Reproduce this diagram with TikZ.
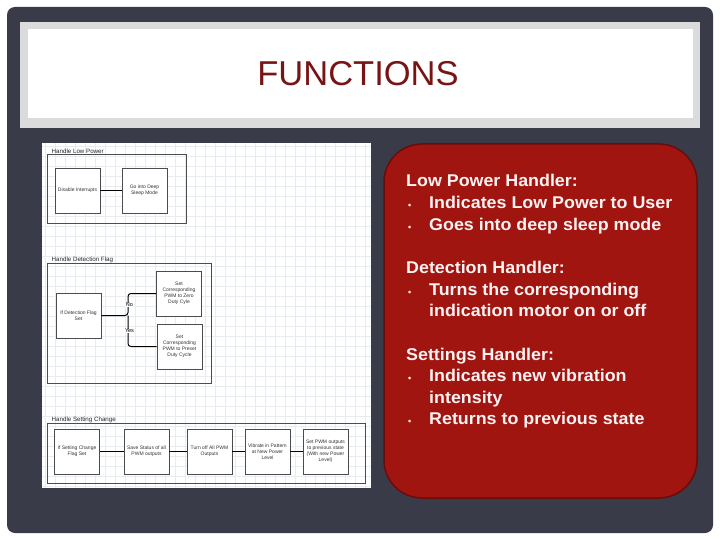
\documentclass[tikz,border=0pt]{standalone}
\usepackage{fontspec}
\setmainfont{Liberation Sans}
\begin{document}
\begin{tikzpicture}[x=1pt,y=-1pt,
  box/.style={draw=black!70,line width=0.6pt,fill=white,minimum width=45pt,minimum height=45pt,align=center,font=\fontsize{5}{5.9}\selectfont,text=black!80,inner sep=0.5pt},
  grp/.style={draw=black!70,line width=0.7pt},
  lbl/.style={anchor=south west,font=\fontsize{6.2}{7}\selectfont,text=black!85,inner sep=0.5pt},
  conn/.style={draw=black,line width=1pt},
  rtxt/.style={anchor=base west,font=\fontsize{17}{19}\selectfont\bfseries,text=red!5!white,inner sep=0pt,xscale=1.05},
  bul/.style={anchor=base west,font=\fontsize{9}{10}\selectfont\bfseries,text=red!5!white,inner sep=0pt}]
\definecolor{slate}{HTML}{393C48}
\definecolor{panelred}{HTML}{A01510}
\definecolor{panelborder}{HTML}{6A0C0C}
\definecolor{titlered}{HTML}{781414}
\definecolor{gridc}{HTML}{E6ECF2}
\useasboundingbox (0,0) rectangle (720,540);
\fill[white] (0,0) rectangle (720,540);
\fill[slate,rounded corners=8pt] (7,7) rectangle (713,533);
% title band
\fill[black!14] (20,22) rectangle (700,128);
\fill[white] (28,29) rectangle (693,118);
\node[font=\fontsize{34.5}{38}\selectfont,text=titlered,inner sep=0pt] (title) at (358,74) {FUNCTIONS};
% left diagram panel
\fill[white] (42,143) rectangle (371,488);
\foreach \gx in {45,55,...,365} \draw[gridc,line width=0.3pt] (\gx,143) -- (\gx,488);
\foreach \gy in {146,156,...,486} \draw[gridc,line width=0.3pt] (42,\gy) -- (371,\gy);
% group 1
\draw[grp] (47,154) rectangle (186,223);
\node[lbl] (l1) at (51,154) {Handle Low Power};
\node[box] (di) at (77.5,190.5) {Disable Interrupts};
\node[box] (gs) at (144.5,190.5) {Go into Deep\\Sleep Mode};
\draw[conn] (di) -- (gs);
% group 2
\draw[grp] (47,263) rectangle (211,383);
\node[lbl] (l2) at (51,263) {Handle Detection Flag};
\node[box] (df) at (78.5,315.5) {If Detection Flag\\Set};
\node[box] (zero) at (179,293.5) {Set\\Corresponding\\PWM to Zero\\Duty Cyle};
\node[box] (pre) at (179.5,346.5) {Set\\Corresponding\\PWM to Preset\\Duty Cycle};
\coordinate (br) at (128,315.5);
\draw[conn,rounded corners=3pt] (df.east) -- (br) -- (br |- zero.west) -- (zero.west);
\draw[conn,rounded corners=3pt] (br) -- (br |- pre.west) -- (pre.west);
\node[fill=white,inner sep=0.5pt,font=\fontsize{5.5}{6}\selectfont] (no) at (129.5,305) {No};
\node[fill=white,inner sep=0.5pt,font=\fontsize{5.5}{6}\selectfont] (yes) at (129.5,331) {Yes};
% group 3
\draw[grp] (47,423) rectangle (365,483);
\node[lbl] (l3) at (51,423) {Handle Setting Change};
\node[box] (s1) at (77,451.5) {If Setting Change\\Flag Set};
\node[box] (s2) at (146.5,451.5) {Save Status of all\\PWM outputs};
\node[box] (s3) at (209.5,451.5) {Turn off All PWM\\Outputs};
\node[box] (s4) at (267.5,451.5) {Vibrate in Pattern\\at New Power\\Level};
\node[box] (s5) at (325.5,451.5) {Set PWM outputs\\to previous state\\(With new Power\\Level)};
\draw[conn] (s1) -- (s2);
\draw[conn] (s2) -- (s3);
\draw[conn] (s3) -- (s4);
\draw[conn] (s4) -- (s5);
% red panel
\draw[fill=panelred,draw=panelborder,line width=1.5pt,rounded corners=38pt] (384,144) rectangle (697,498);
\node[rtxt] (h1) at (406,187) {Low Power Handler:};
\node[bul] (b1) at (408,208.5) {•};
\node[rtxt] (t1) at (429,208.5) {Indicates Low Power to User};
\node[bul] (b2) at (408,230) {•};
\node[rtxt] (t2) at (429,230) {Goes into deep sleep mode};
\node[rtxt] (h2) at (406,273.5) {Detection Handler:};
\node[bul] (b3) at (408,295) {•};
\node[rtxt] (t3) at (429,295) {Turns the corresponding};
\node[rtxt] (t3b) at (429,316.5) {indication motor on or off};
\node[rtxt] (h3) at (406,360) {Settings Handler:};
\node[bul] (b4) at (408,381.5) {•};
\node[rtxt] (t4) at (429,381.5) {Indicates new vibration};
\node[rtxt] (t4b) at (429,403) {intensity};
\node[bul] (b5) at (408,424.5) {•};
\node[rtxt] (t5) at (429,424.5) {Returns to previous state};
\end{tikzpicture}
\end{document}
